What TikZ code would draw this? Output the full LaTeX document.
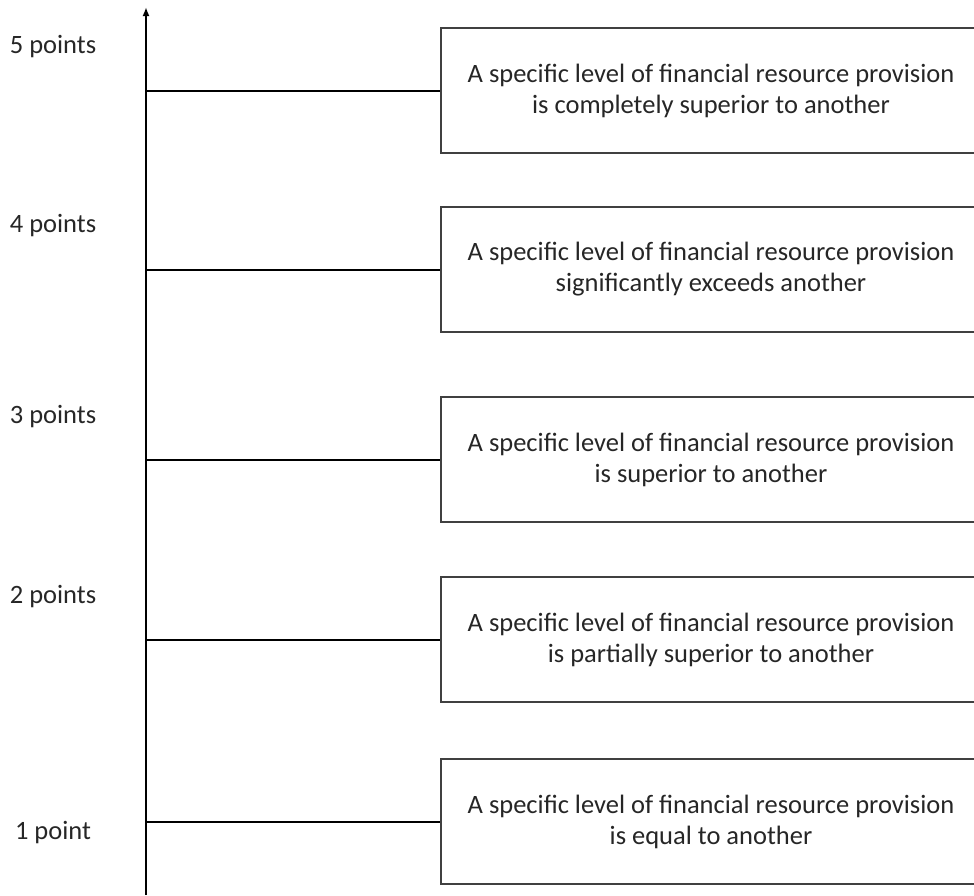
\documentclass[tikz,border=0pt]{standalone}
\usepackage{fontspec}
\setmainfont{Carlito}
\usetikzlibrary{arrows.meta}
\begin{document}
\begin{tikzpicture}[x=1pt,y=-1pt,
    level/.style={draw=black!75, line width=1.3pt, minimum width=540pt, minimum height=125pt,
        inner sep=0pt, align=center, text=black!85, font=\fontsize{26.5}{31}\selectfont},
    score/.style={text=black!85, font=\fontsize{26.5}{31}\selectfont},
    tie/.style={line width=2pt}]
    \useasboundingbox (0,0) rectangle (974,895);
    \clip (0,0) rectangle (974,895);

    % vertical scale
    \coordinate (base) at (146,895);
    \coordinate (tip) at (146,7);
    \draw[tie,-{Latex[length=9pt,width=7pt]}] (base) -- (tip);

    % levels
    \foreach \n/\y/\ly/\pts/\txt in {
        5/90.5/47/5 points/{is completely superior to another},
        4/269.5/226/4 points/{significantly exceeds another},
        3/459.5/417/3 points/{is superior to another},
        2/639.5/597/2 points/{is partially superior to another},
        1/821.5/833/1 point/{is equal to another}} {
        \node[level] (box\n) at (711,\y) {A specific level of financial resource provision\\ \txt};
        \node[score] (lab\n) at (53,\ly) {\pts};
        \draw[tie] (box\n.west -| base) -- (box\n.west);
    }

\end{tikzpicture}
\end{document}
